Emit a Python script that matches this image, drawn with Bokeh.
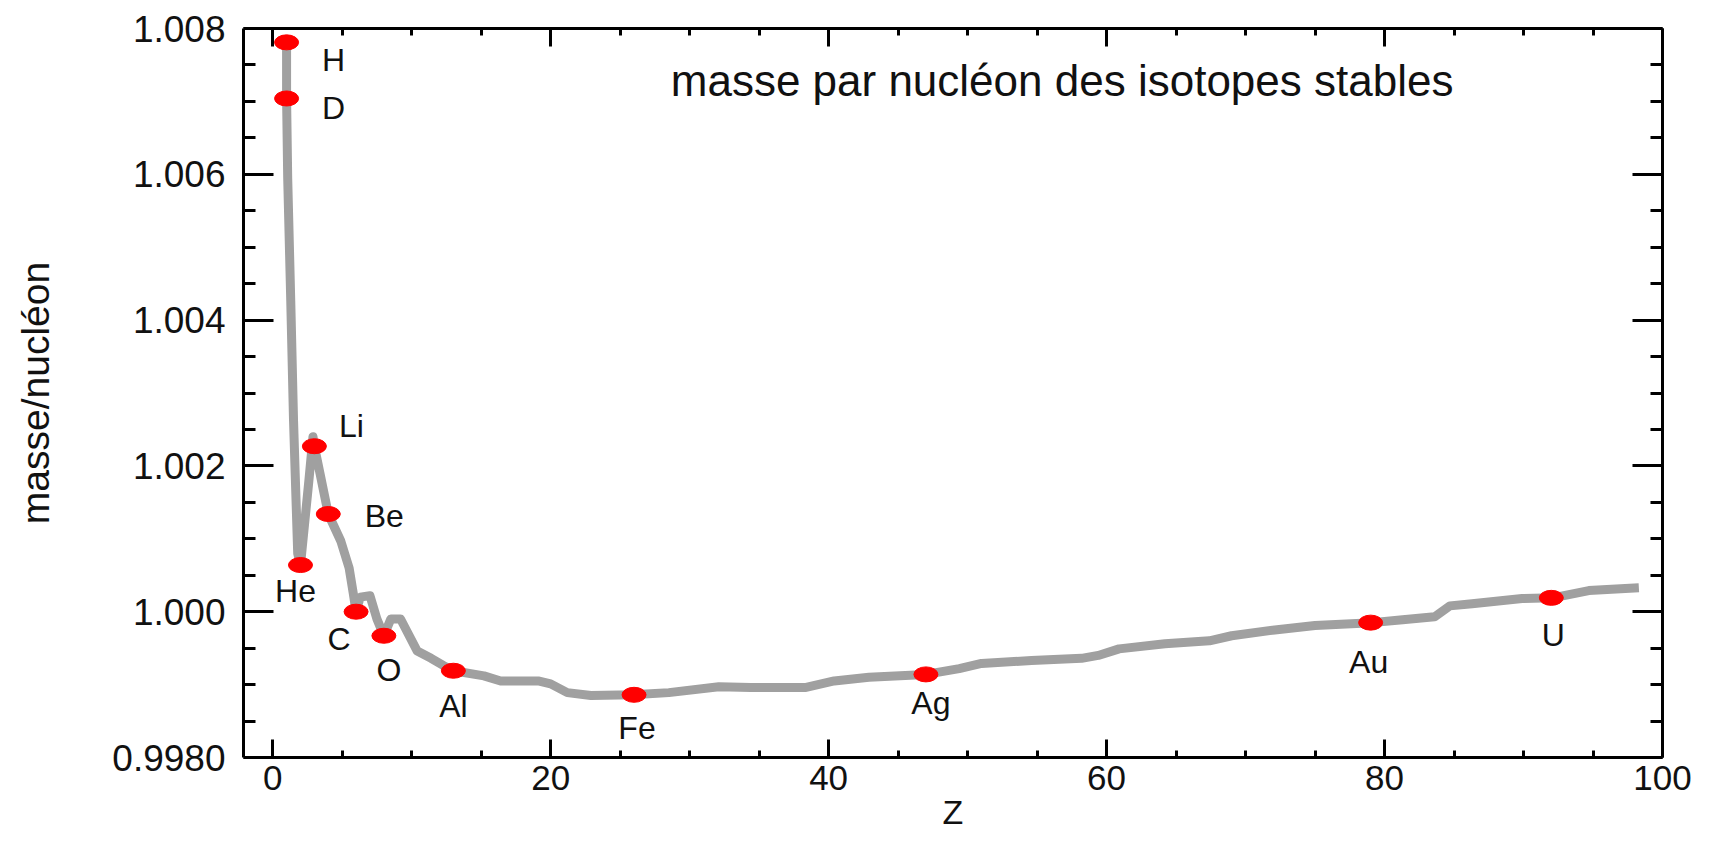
from bokeh.plotting import figure
from bokeh.models import FixedTicker, LinearAxis, Range1d, Label
from bokeh.core.properties import value
from bokeh.embed import file_html
from bokeh.resources import INLINE

# ---- data ----
# gray curve: mass per nucleon of stable isotopes vs Z
z_curve = [1.0, 1.0, 1.08, 1.3, 1.5, 1.8, 2.0, 2.6, 2.9, 3.0, 3.4, 4.0, 4.9, 5.5, 5.8,
           6.0, 6.3, 7.0, 7.5, 8.0, 8.5, 9.2, 10.4, 11.4, 12.3, 13.0, 15.2, 16.4, 19.1,
           20.0, 21.2, 22.9, 25.9, 28.5, 32.1, 34.4, 38.3, 40.4, 42.9, 47.0, 49.4, 51.0,
           54.6, 58.2, 59.4, 60.9, 64.2, 67.4, 69.0, 72.1, 75.0, 79.1, 81.3, 83.6, 84.7,
           86.3, 89.9, 92.1, 94.7, 98.3]
m_curve = [1.00781, 1.00704, 1.00595, 1.00426, 1.00262, 1.00080, 1.00064, 1.00179,
           1.00240, 1.00227, 1.00190, 1.00134, 1.00097, 1.00060, 1.00025, 1.00000,
           1.00020, 1.00022, 0.99990, 0.99967, 0.99990, 0.99990, 0.99946, 0.99936,
           0.99926, 0.99919, 0.99912, 0.99905, 0.99905, 0.99901, 0.99889, 0.99885,
           0.99886, 0.99889, 0.99897, 0.99896, 0.99896, 0.99905, 0.99910, 0.99914,
           0.99922, 0.99929, 0.99933, 0.99936, 0.99940, 0.99949, 0.99956, 0.99960,
           0.99967, 0.99975, 0.99981, 0.99985, 0.99989, 0.99993, 1.00008, 1.00011,
           1.00018, 1.00019, 1.00029, 1.00033]

# highlighted isotopes (red points)
elem_names = ["H", "D", "He", "Li", "Be", "C", "O", "Al", "Fe", "Ag", "Au", "U"]
elem_z = [1, 1, 2, 3, 4, 6, 8, 13, 26, 47, 79, 92]
elem_m = [1.00781, 1.00704, 1.00064, 1.00227, 1.00134, 1.00000, 0.99967, 0.99919,
          0.99886, 0.99914, 0.99985, 1.00019]

# axis ticks
x_ticks = [0, 20, 40, 60, 80, 100]
x_tick_labels = ["0", "20", "40", "60", "80", "100"]
x_minor = [5, 10, 15, 25, 30, 35, 45, 50, 55, 65, 70, 75, 85, 90, 95]
y_ticks = [0.998, 1.000, 1.002, 1.004, 1.006, 1.008]
y_tick_labels = ["0.9980", "1.000", "1.002", "1.004", "1.006", "1.008"]
y_minor = [0.9985, 0.999, 0.9995, 1.0005, 1.001, 1.0015, 1.0025, 1.003, 1.0035,
           1.0045, 1.005, 1.0055, 1.0065, 1.007, 1.0075]

title_text = "masse par nucléon des isotopes stables"
x_label = "Z"
y_label = "masse/nucléon"

# ---- styling / placement ----
label_dx = [47, 47, -5, 37, 56, -17, 5, 0, 3, 5, -2, 2]   # screen px
label_dy = [18, 10, 26, -20, 2, 27, 34, 35, 33, 29, 39, 37]  # screen px

FONT = "Liberation Sans"
INK = "#111111"

p = figure(width=1725, height=846, output_backend="svg", toolbar_location=None,
           x_range=Range1d(-2.1, 100), y_range=Range1d(0.998, 1.008),
           min_border_left=243, min_border_right=63, min_border_top=28,
           min_border_bottom=89, background_fill_color="white",
           border_fill_color="white", outline_line_color=None)
p.grid.visible = False

xt = FixedTicker(ticks=x_ticks, minor_ticks=x_minor)
yt = FixedTicker(ticks=y_ticks, minor_ticks=y_minor)


def style_axis(ax, major_len, minor_len):
    ax.axis_line_width = 3
    ax.axis_line_color = "black"
    ax.major_tick_line_width = 3
    ax.minor_tick_line_width = 3
    ax.major_tick_in = major_len
    ax.major_tick_out = 0
    ax.minor_tick_in = minor_len
    ax.minor_tick_out = 0


xa = p.xaxis[0]
xa.ticker = xt
style_axis(xa, 18, 7)
xa.major_label_overrides = dict(zip(x_ticks, x_tick_labels))
xa.major_label_text_font = FONT
xa.major_label_text_font_size = "35px"
xa.major_label_text_color = INK
xa.major_label_standoff = 8
xa.axis_label = x_label
xa.axis_label_text_font = FONT
xa.axis_label_text_font_size = "34px"
xa.axis_label_text_font_style = "normal"
xa.axis_label_text_color = INK
xa.axis_label_standoff = 0

ya = p.yaxis[0]
ya.ticker = yt
style_axis(ya, 30, 12)
ya.major_label_overrides = dict(zip(y_ticks, y_tick_labels))
ya.major_label_text_font = FONT
ya.major_label_text_font_size = "37px"
ya.major_label_text_color = INK
ya.major_label_standoff = 18
ya.axis_label = y_label
ya.axis_label_text_font = FONT
ya.axis_label_text_font_size = "39px"
ya.axis_label_text_font_style = "normal"
ya.axis_label_text_color = INK
ya.axis_label_standoff = 52

top = LinearAxis(ticker=xt, major_label_text_color=None, major_label_text_font_size="8px")
style_axis(top, 18, 7)
p.add_layout(top, "above")
right = LinearAxis(ticker=yt, major_label_text_color=None, major_label_text_font_size="8px")
style_axis(right, 30, 12)
p.add_layout(right, "right")

p.line(z_curve, m_curve, line_color="#a0a0a0", line_width=9, line_join="round")
p.ellipse(x=elem_z, y=elem_m, width=24, height=15, width_units="screen",
          height_units="screen", fill_color="#ff0000", line_color="#ff0000")
p.text(x=elem_z, y=elem_m, text=elem_names, x_offset=label_dx, y_offset=label_dy,
       text_font=value(FONT), text_font_size=value("32px"), text_color=INK,
       text_align="center", text_baseline="middle")

p.add_layout(Label(x=56.8, y=1.00729, text=title_text, text_font=FONT,
                   text_font_size="44px", text_color=INK, text_align="center",
                   text_baseline="middle"))

open("out.html", "w").write(file_html(p, INLINE))
